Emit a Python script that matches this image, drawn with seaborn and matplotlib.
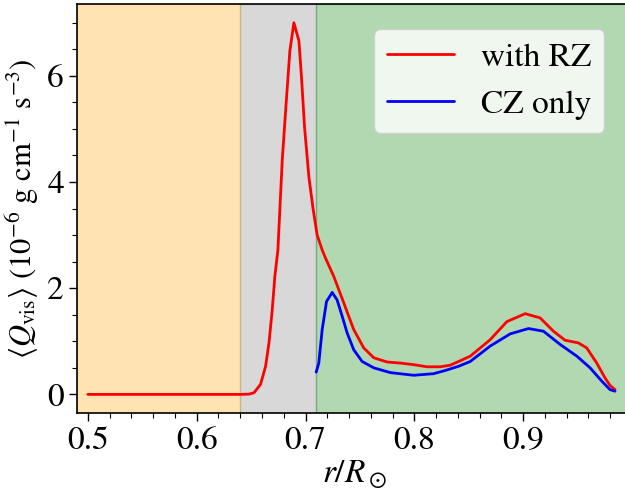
import numpy as np
import pandas as pd
import matplotlib
matplotlib.use("Agg")
import matplotlib.pyplot as plt
import seaborn as sns

# Viscous heating profiles, <Q_vis> in units of 1e-6 g cm^-1 s^-3
r_rz = [0.500, 0.550, 0.600, 0.640, 0.648, 0.6526, 0.6587, 0.6633, 0.6664, 0.6694,
        0.6718, 0.6746, 0.6786, 0.6817, 0.6856, 0.6893, 0.6939, 0.6963, 0.6991,
        0.7031, 0.7071, 0.7107, 0.7153, 0.7183, 0.7260, 0.7352, 0.7443, 0.7535,
        0.7627, 0.7750, 0.7870, 0.7994, 0.8116, 0.8239, 0.8330, 0.8407, 0.8514,
        0.8697, 0.8850, 0.9018, 0.9156, 0.9278, 0.9385, 0.9507, 0.9584, 0.9676,
        0.9752, 0.9798, 0.9844]
q_rz = [0.0, 0.0, 0.0, 0.0, 0.005, 0.03, 0.19, 0.53, 0.97, 1.59,
        2.22, 2.72, 4.41, 5.34, 6.47, 7.00, 6.66, 5.97, 5.03,
        4.09, 3.47, 3.00, 2.72, 2.57, 2.22, 1.72, 1.22, 0.875,
        0.69, 0.61, 0.59, 0.56, 0.52, 0.52, 0.55, 0.62, 0.72,
        1.03, 1.37, 1.52, 1.44, 1.19, 1.02, 0.97, 0.875, 0.59,
        0.31, 0.17, 0.09]

r_cz = [0.7098, 0.7122, 0.7153, 0.7193, 0.7245, 0.7290, 0.7337, 0.7382, 0.7443,
        0.7520, 0.7627, 0.7780, 0.7994, 0.8177, 0.8300, 0.8407, 0.8514, 0.8697,
        0.8881, 0.9049, 0.9186, 0.9340, 0.9493, 0.9615, 0.9722, 0.9798, 0.9844]
q_cz = [0.42, 0.59, 1.22, 1.75, 1.92, 1.78, 1.47, 1.16, 0.84,
        0.62, 0.50, 0.41, 0.36, 0.39, 0.46, 0.53, 0.62, 0.91,
        1.14, 1.24, 1.19, 0.94, 0.72, 0.50, 0.25, 0.09, 0.06]

labels = ["with RZ", "CZ only"]
colors = ["red", "blue"]

df = pd.concat([
    pd.DataFrame({"r": r_rz, "q": q_rz, "case": labels[0]}),
    pd.DataFrame({"r": r_cz, "q": q_cz, "case": labels[1]}),
])

sns.set_style("ticks")
plt.rcParams["font.family"] = ["STIXGeneral", "DejaVu Serif"]
plt.rcParams["mathtext.fontset"] = "stix"
plt.rcParams["font.size"] = 24
for key in ("text.color", "axes.labelcolor", "xtick.color", "ytick.color",
            "axes.edgecolor"):
    plt.rcParams[key] = "black"

fig = plt.figure(figsize=(6.25, 4.95), dpi=100)
ax = fig.add_axes([0.1232, 0.1657, 0.888, 0.826])

# radiative zone, tachocline and convection zone
ax.axvspan(0.49, 0.64, color="orange", alpha=0.3)
ax.axvspan(0.64, 0.71, color="gray", alpha=0.3)
ax.axvspan(0.71, 1.0, color="green", alpha=0.3)

sns.lineplot(data=df, x="r", y="q", hue="case", palette=colors,
             hue_order=labels, lw=2, ax=ax, sort=False, estimator=None)
for line in ax.get_lines():
    line.set_solid_joinstyle("round")
    line.set_solid_capstyle("round")

ax.set_xlim(0.49, 1.0)
ax.margins(y=0.05)
ax.set_xticks([0.5, 0.6, 0.7, 0.8, 0.9])
ax.set_yticks([0, 2, 4, 6])
ax.xaxis.set_minor_locator(matplotlib.ticker.MultipleLocator(0.02))
ax.yaxis.set_minor_locator(matplotlib.ticker.MultipleLocator(0.5))
ax.tick_params(which="major", length=6, width=1, labelsize=24)
ax.tick_params(which="minor", length=3.5, width=0.8)
for s in ax.spines.values():
    s.set_linewidth(1.2)

ax.set_xlabel(r"$r/R_\odot$", fontsize=24, labelpad=2)
ax.set_ylabel(r"$\langle Q_{\rm vis}\rangle$ ($10^{-6}$ g cm$^{-1}$ s$^{-3}$)",
              fontsize=22, labelpad=4)

ax.legend(loc="upper right", fontsize=24, handlelength=2.0,
          bbox_to_anchor=(0.98, 0.98))

fig.savefig("out.png", dpi=100)
